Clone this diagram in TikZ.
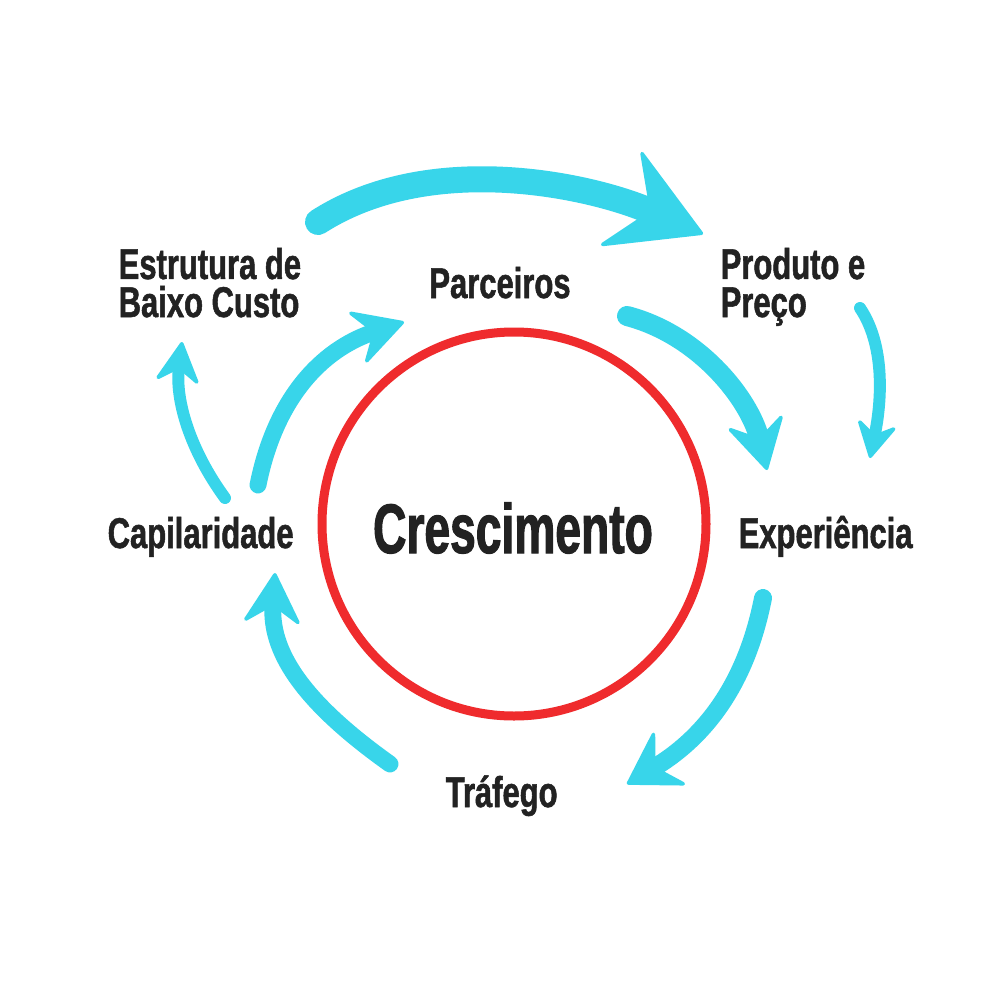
\documentclass[tikz,border=0pt]{standalone}
\usepackage{fontspec}
\usetikzlibrary{arrows.meta}
\newfontfamily\lblfont{Liberation Sans}[FakeStretch=0.72, FakeBold=1.2]
\newfontfamily\bigfont{Liberation Sans}[FakeStretch=0.66, FakeBold=1.5]
\definecolor{cyanbrush}{HTML}{38D5EA}
\definecolor{ringred}{HTML}{EF2B2D}
\definecolor{textdark}{HTML}{222222}
\tikzset{
  lbl/.style={text=textdark, inner sep=0pt, font=\lblfont\bfseries\fontsize{12.23pt}{10.81pt}\selectfont, align=left},
  bigtxt/.style={text=textdark, inner sep=0pt, font=\bigfont\bfseries\fontsize{19.9pt}{22pt}\selectfont},
  brush/.style={draw=cyanbrush, line cap=round, line join=round},
}
\begin{document}
\begin{tikzpicture}[x=0.01cm,y=-0.01cm]
\fill[white] (0,0) rectangle (1000,1000);
\useasboundingbox (0,0) rectangle (1000,1000);

% ring
\node[draw=ringred, line width=2.56pt, circle, minimum size=192*2*0.01cm, inner sep=0pt] (ring) at (514,524) {};

% labels
\node[bigtxt, anchor=base] (cresc) at (513,553) {Crescimento};
\node[lbl, anchor=base] (parc) at (500,298) {Parceiros};
\node[lbl, anchor=base west] (estr) at (118,317) {Estrutura de\\Baixo Custo};
\node[lbl, anchor=base west] (prod) at (720,317) {Produto e\\Preço};
\node[lbl, anchor=base west] (exp) at (738,548) {Experiência};
\node[lbl, anchor=base west] (cap) at (107,548) {Capilaridade};
\node[lbl, anchor=base west] (traf) at (445,807) {Tráfego};

% arrow end points
\coordinate (a1s) at (318,222);
\coordinate (a1e) at (703,234);
\coordinate (a2s) at (627,316);
\coordinate (a2e) at (767,470);
\coordinate (a3s) at (860,308);
\coordinate (a3e) at (870,458);
\coordinate (a4s) at (763,598);
\coordinate (a4e) at (627,784);
\coordinate (a5s) at (390,764);
\coordinate (a5e) at (275,573);
\coordinate (a6s) at (258,485);
\coordinate (a6e) at (404,322);
\coordinate (a7s) at (225,498);
\coordinate (a7e) at (182,342);

% brush arrows
\draw[brush, line width=7.4pt, -{Stealth[length=27pt, width=31pt, inset=10pt, line width=1pt, round]}]
  (a1s) .. controls (430,150) and (590,185) .. (a1e);
\draw[brush, line width=5.7pt, -{Stealth[length=15.6pt, width=17.6pt, inset=5.7pt, line width=1pt, round]}]
  (a2s) .. controls (700,335) and (750,400) .. (a2e);
\draw[brush, line width=3.4pt, -{Stealth[length=11.4pt, width=12.5pt, inset=4pt, line width=1pt, round]}]
  (a3s) .. controls (885,345) and (882,400) .. (a3e);
\draw[brush, line width=5.1pt, -{Stealth[length=15.6pt, width=19.3pt, inset=5.7pt, line width=1pt, round]}]
  (a4s) .. controls (745,690) and (700,740) .. (a4e);
\draw[brush, line width=4.8pt, -{Stealth[length=15.6pt, width=17.6pt, inset=5.7pt, line width=1pt, round]}]
  (a5s) .. controls (300,700) and (270,650) .. (a5e);
\draw[brush, line width=4.8pt, -{Stealth[length=15.6pt, width=17pt, inset=5.7pt, line width=1pt, round]}]
  (a6s) .. controls (275,400) and (320,350) .. (a6e);
\draw[brush, line width=3.4pt, -{Stealth[length=12.8pt, width=13.7pt, inset=4.5pt, line width=1pt, round]}]
  (a7s) .. controls (190,450) and (175,400) .. (a7e);
\end{tikzpicture}
\end{document}
